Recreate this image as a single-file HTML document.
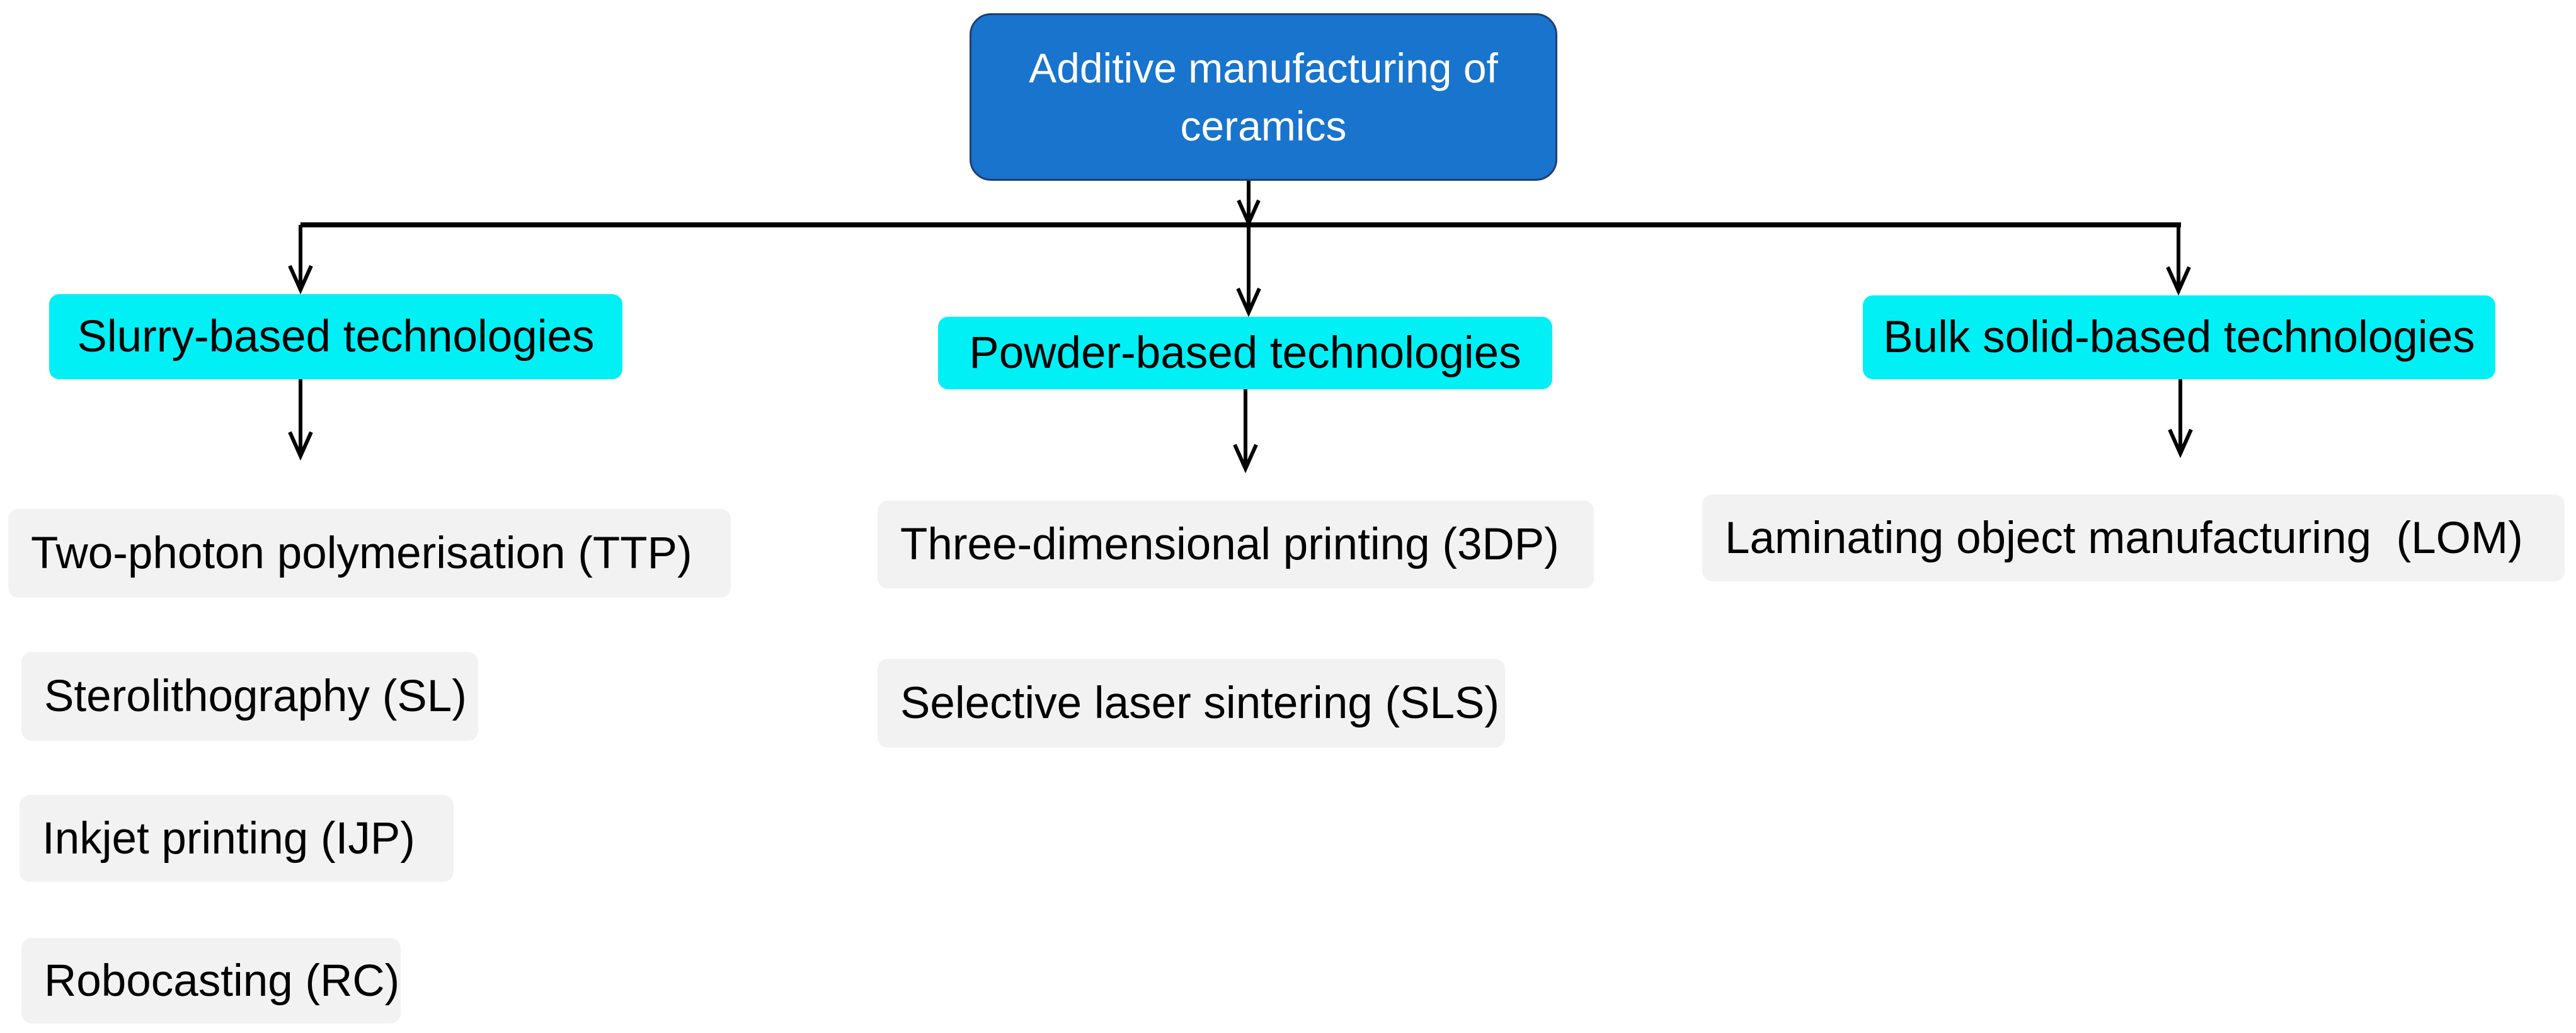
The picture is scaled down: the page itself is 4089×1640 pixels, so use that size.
<!DOCTYPE html>
<html><head><meta charset="utf-8"><style>
body{margin:0;width:4089px;height:1640px;background:#fff;position:relative;overflow:hidden;font-family:"Liberation Sans",sans-serif}
.b{position:absolute;box-sizing:border-box;display:flex;align-items:center;white-space:nowrap}
.top{left:1539px;top:21px;width:933px;height:266px;background:#1874cd;border:3px solid #1f3f73;border-radius:34px;color:#fff;font-size:66px;justify-content:center;text-align:center;line-height:1.4}
.c{background:#00f0f5;border-radius:16px;font-size:71px;color:#000;justify-content:center}
.g{background:#f2f2f2;border-radius:16px;font-size:71px;color:#000;padding-left:36px}
svg{position:absolute;left:0;top:0}
</style></head><body>
<svg width="4089" height="1640">
<g stroke="#000" fill="none" stroke-width="8">
<line x1="477" y1="357" x2="3462" y2="357"/>
</g>
<g stroke="#000" fill="none" stroke-width="6">
<path d="M1982 287 V352"/><path d="M1966 318 L1982 354 L1998 318"/>
<path d="M477 357 V458"/><path d="M460 422 L477 460 L494 422"/>
<path d="M1982 357 V494"/><path d="M1965 458 L1982 496 L1999 458"/>
<path d="M3458 357 V460"/><path d="M3441 424 L3458 462 L3475 424"/>
<path d="M477 602 V722"/><path d="M460 686 L477 724 L494 686"/>
<path d="M1977 618 V742"/><path d="M1960 706 L1977 744 L1994 706"/>
<path d="M3461 602 V718"/><path d="M3444 682 L3461 720 L3478 682"/>
</g>
</svg>
<div class="b top">Additive manufacturing of<br>ceramics</div>
<div class="b c" style="left:78px;top:467px;width:910px;height:135px">Slurry-based technologies</div>
<div class="b c" style="left:1489px;top:503px;width:975px;height:115px">Powder-based technologies</div>
<div class="b c" style="left:2957px;top:469px;width:1004px;height:133px">Bulk solid-based technologies</div>
<div class="b g" style="left:13px;top:808px;width:1147px;height:141px">Two-photon polymerisation (TTP)</div>
<div class="b g" style="left:34px;top:1035px;width:725px;height:141px">Sterolithography (SL)</div>
<div class="b g" style="left:31px;top:1262px;width:689px;height:138px">Inkjet printing (IJP)</div>
<div class="b g" style="left:34px;top:1489px;width:602px;height:136px">Robocasting (RC)</div>
<div class="b g" style="left:1393px;top:795px;width:1137px;height:139px">Three-dimensional printing (3DP)</div>
<div class="b g" style="left:1393px;top:1046px;width:996px;height:141px">Selective laser sintering (SLS)</div>
<div class="b g" style="left:2702px;top:785px;width:1369px;height:138px">Laminating object manufacturing&nbsp; (LOM)</div>
</body></html>
